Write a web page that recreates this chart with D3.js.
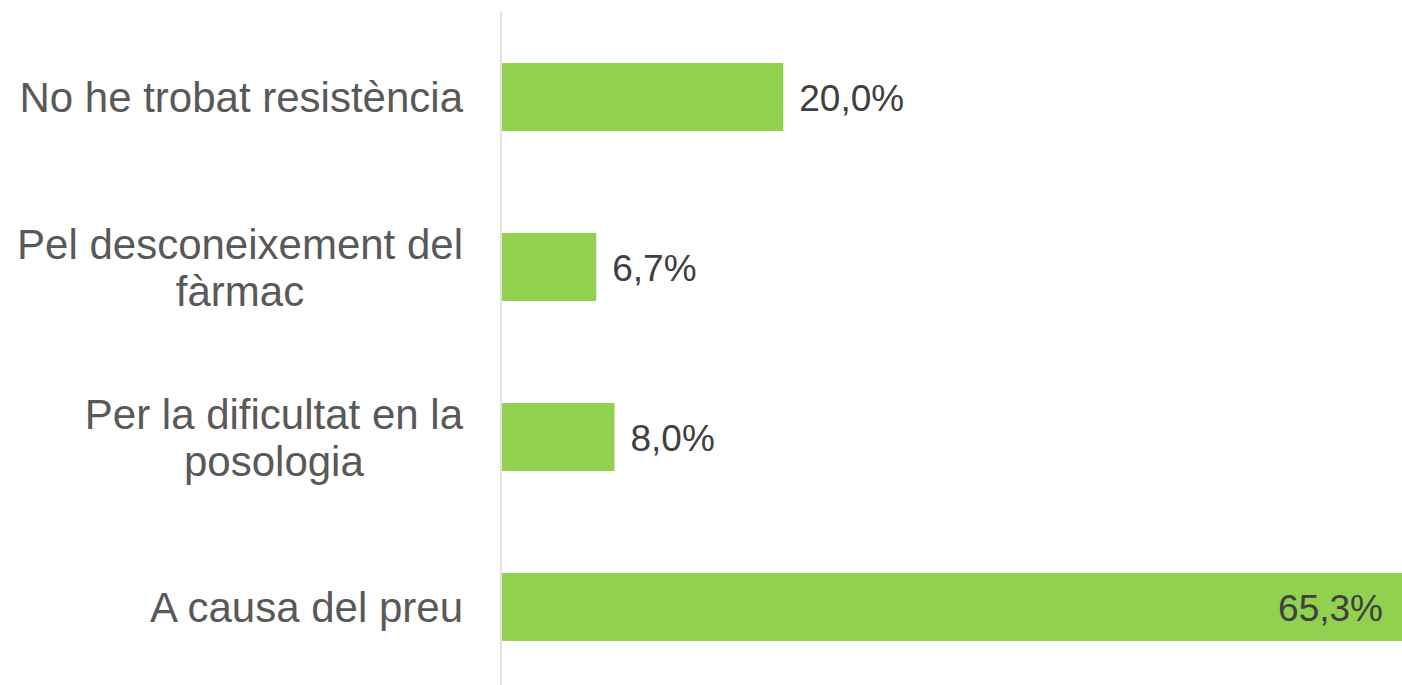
<!DOCTYPE html>
<html>
<head>
<meta charset="utf-8">
<script src="https://cdn.jsdelivr.net/npm/d3@7"></script>
<style>
  html, body { margin: 0; padding: 0; background: #fff; overflow: hidden; }
  svg { display: block; }
</style>
</head>
<body>
<div id="chart"></div>
<script>
const categories = [
  ["No he trobat resistència"],
  ["Pel desconeixement del", "fàrmac"],
  ["Per la dificultat en la", "posologia"],
  ["A causa del preu"]
]
const values = [20.0, 6.7, 8.0, 65.3]
const valueLabels = ["20,0%", "6,7%", "8,0%", "65,3%"]

const W = 1402, H = 685
const axisX = 501
const labelRight = 463

const svg = d3.select("#chart")
    .append("svg")
    .attr("width", W)
    .attr("height", H)

const y = d3.scaleBand()
    .domain(d3.range(categories.length))
    .range([12, 692])
    .paddingInner(0.6)
    .paddingOuter(0.3)

// axis max sits a bit below the largest value, so the last bar runs off the edge
const x = d3.scaleLinear()
    .domain([0, 64])
    .range([502, 1402])

// bars
svg.append("g")
    .selectAll("rect")
    .data(values)
    .join("rect")
    .attr("x", x(0))
    .attr("y", (d, i) => y(i))
    .attr("width", d => x(d) - x(0))
    .attr("height", y.bandwidth())
    .attr("fill", "#92d050")

// vertical axis line
svg.append("line")
    .attr("x1", axisX).attr("x2", axisX)
    .attr("y1", y.range()[0]).attr("y2", y.range()[1])
    .attr("stroke", "#d9d9d9")
    .attr("stroke-width", 1.5)

// category labels, lines centred on each other, block right-aligned
const lineH = 47
svg.append("g")
    .selectAll("text")
    .data(categories)
    .join("text")
    .attr("text-anchor", "middle")
    .attr("font-family", "'Liberation Sans', Arial, sans-serif")
    .attr("font-size", 42)
    .attr("fill", "#595959")
    .each(function(lines, i) {
        const t = d3.select(this)
        const cy = y(i) + y.bandwidth() / 2
        const first = cy + 15 - (lines.length - 1) * lineH / 2
        const spans = t.selectAll("tspan")
            .data(lines)
            .join("tspan")
            .attr("y", (l, j) => first + j * lineH)
            .text(l => l)
        let maxW = 0
        spans.each(function() { maxW = Math.max(maxW, this.getComputedTextLength()) })
        spans.attr("x", labelRight - maxW / 2)
    })

// value labels
svg.append("g")
    .selectAll("text")
    .data(values)
    .join("text")
    .attr("font-family", "'Liberation Sans', Arial, sans-serif")
    .attr("font-size", 37)
    .attr("fill", "#404040")
    .attr("y", (d, i) => y(i) + y.bandwidth() / 2 + 13.5)
    .attr("x", d => x(d) > W - 150 ? W - 19 : x(d) + 16)
    .attr("text-anchor", d => x(d) > W - 150 ? "end" : "start")
    .text((d, i) => valueLabels[i])
</script>
</body>
</html>
